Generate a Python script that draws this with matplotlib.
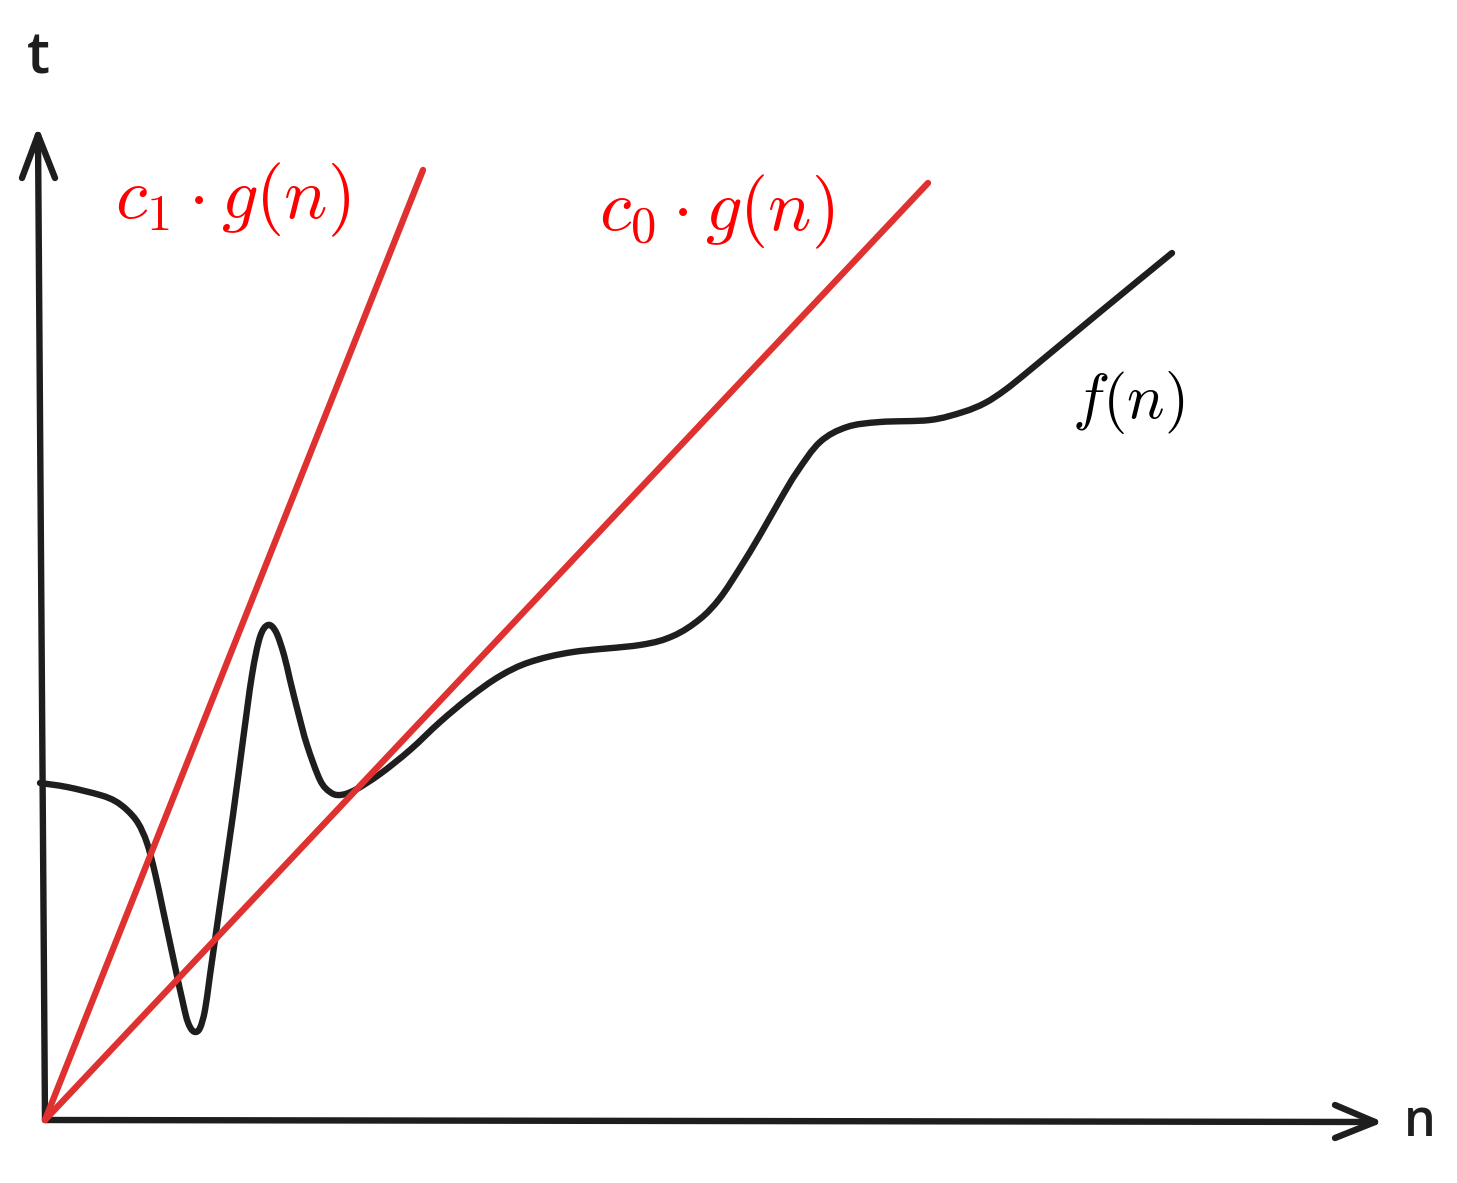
import numpy as np
import matplotlib
matplotlib.use("Agg")
import matplotlib.pyplot as plt
from matplotlib.path import Path
from matplotlib.patches import PathPatch

plt.rcParams['mathtext.fontset'] = 'cm'

# f(n) (n right, t up; origin at the axes corner)
f_n = [-5, 22, 55, 70, 82, 93, 102, 110, 118, 128, 140, 145, 150, 155, 160, 165, 175,
       188, 198, 207, 215, 223, 231, 239, 245, 253, 262, 275, 285, 295, 310, 335, 365,
       395, 425, 455, 485, 528, 595, 628, 655, 675, 695, 715, 735, 752, 775, 802, 835,
       885, 918, 940, 960, 985, 1055, 1127]
f_t = [337, 333, 325, 319, 310, 297, 277, 247, 210, 163, 108, 93, 88, 92, 110, 145, 215,
       305, 380, 445, 483, 495, 488, 465, 440, 408, 375, 340, 328, 325, 330, 346, 370,
       398, 423, 444, 458, 468, 475, 484, 501, 522, 552, 585, 620, 648, 678, 693, 698,
       700, 708, 717, 730, 750, 808, 867]

# bounding lines c1*g(n) and c0*g(n)
c1_n = [0, 378]
c1_t = [0, 950]
c0_n = [0, 883]
c0_t = [0, 937]

# axes (hand drawn)
yaxis_n = [0, -7]
yaxis_t = [0, 985]
xaxis_n = [0, 1330]
xaxis_t = [0, -2]

labels = {"c1": r"$c_1 \cdot g(n)$", "c0": r"$c_0 \cdot g(n)$", "f": r"$f(n)$"}

W, H = 1457, 1183
fig = plt.figure(figsize=(W / 100, H / 100), dpi=100)
ax = fig.add_axes([0, 0, 1, 1])
ax.set_xlim(-45, W - 45)
ax.set_ylim(1120 - H, 1120)
ax.axis('off')

black = '#1e1e1e'
red = '#e03131'
lw = 4.6

# axes lines
ax.plot(yaxis_n, yaxis_t, color=black, lw=lw, solid_capstyle='round')
ax.plot(xaxis_n, xaxis_t, color=black, lw=lw, solid_capstyle='round')
# arrowheads
tx, ty = yaxis_n[1], yaxis_t[1]
ax.plot([tx - 16, tx, tx + 17], [ty - 43, ty, ty - 43], color=black, lw=lw,
        solid_capstyle='round', solid_joinstyle='round')
ex, ey = xaxis_n[1], xaxis_t[1]
ax.plot([ex - 40, ex, ex - 40], [ey + 17, ey, ey - 16], color=black, lw=lw,
        solid_capstyle='round', solid_joinstyle='round')

# red lines
ax.plot(c1_n, c1_t, color=red, lw=lw, solid_capstyle='round')
ax.plot(c0_n, c0_t, color=red, lw=lw, solid_capstyle='round')

# f(n) as smooth Catmull-Rom path through the read points
P = np.column_stack([f_n, f_t]).astype(float)
verts = [P[0]]
codes = [Path.MOVETO]
for i in range(len(P) - 1):
    p0 = P[i - 1] if i > 0 else P[i]
    p1 = P[i]
    p2 = P[i + 1]
    p3 = P[i + 2] if i + 2 < len(P) else P[i + 1]
    verts += [p1 + (p2 - p0) / 6, p2 - (p3 - p1) / 6, p2]
    codes += [Path.CURVE4] * 3
ax.add_patch(PathPatch(Path(verts, codes), facecolor='none', edgecolor=black,
                       lw=lw, capstyle='round', joinstyle='round'))

# labels
ax.text(188, 920, labels["c1"], color='red', fontsize=52, ha='center', va='center')
ax.text(672, 908, labels["c0"], color='red', fontsize=52, ha='center', va='center')
ax.text(1083, 718, labels["f"], color='black', fontsize=45, ha='center', va='center')
ax.text(-7, 1062, "t", color=black, fontsize=42, ha='center', va='center',
        family='Open Sans', weight='semibold')
ax.text(1375, -3, "n", color=black, fontsize=36, ha='center', va='center',
        family='Open Sans', weight='semibold')

fig.savefig("out.png", dpi=100)
